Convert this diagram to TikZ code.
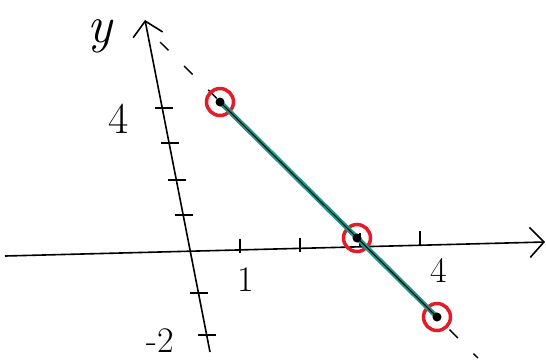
\documentclass[tikz,border=0pt]{standalone}
\usepackage{tikz}
\usetikzlibrary{arrows.meta}

\definecolor{tealline}{RGB}{28,150,138}
\definecolor{markred}{RGB}{226,28,40}

\begin{document}
\begin{tikzpicture}[
    x=1pt, y=-1pt,
    axis/.style={line width=1.6pt, -{Straight Barb[length=14pt, width=30pt, line width=1.6pt]}},
    tick/.style={line width=1.5pt},
    ring/.style={circle, draw=markred, line width=3.5pt, minimum size=27pt, inner sep=0pt},
    dot/.style={circle, fill=black, minimum size=9pt, inner sep=0pt},
    lbl/.style={font=\fontsize{36}{36}\selectfont}
]
    \useasboundingbox[fill=white] (0,0) rectangle (546,360);

    % Axes
    \coordinate (xstart) at (5,256);
    \coordinate (xend) at (545,242);
    \coordinate (ystart) at (210,352);
    \coordinate (yend) at (145,20);
    \draw[axis] (xstart) -- (xend);
    \draw[axis] (ystart) -- (yend);

    % Ticks
    \foreach \tx/\ty in {240/246, 300/245, 360/240, 420/238}
        \draw[tick] (\tx,\ty-7) -- (\tx,\ty+7);
    \foreach \tx/\ty in {164/108, 170/143, 177/180, 184/215, 199/293, 207/335}
        \draw[tick] (\tx-9,\ty) -- (\tx+9,\ty);

    % Labels
    \node[font=\fontsize{52}{52}\selectfont\itshape, inner sep=0pt] (ylabel) at (100,36) {y};
    \node[font=\fontsize{44}{44}\selectfont] (yfour) at (119,119) {4};
    \node[lbl] (yminustwo) at (160,341) {-2};
    \node[lbl] (xone) at (246,280) {1};
    \node[lbl] (xfour) at (439,270) {4};

    % Line and points
    \coordinate (dashstart) at (160,42);
    \coordinate (dashend) at (478,358);
    \draw[line width=1.4pt, dash pattern=on 12pt off 22pt] (dashstart) -- (dashend);

    \node[ring] (pa) at (220,102) {};
    \node[ring] (pb) at (357,238) {};
    \node[ring] (pc) at (437,317) {};

    \draw[tealline, line width=5pt] (pa.center) -- (pc.center);
    \draw[line width=1pt] (pa.center) -- (pc.center);

    \node[dot] at (pa.center) {};
    \node[dot] at (pb.center) {};
    \node[dot] at (pc.center) {};
\end{tikzpicture}
\end{document}
